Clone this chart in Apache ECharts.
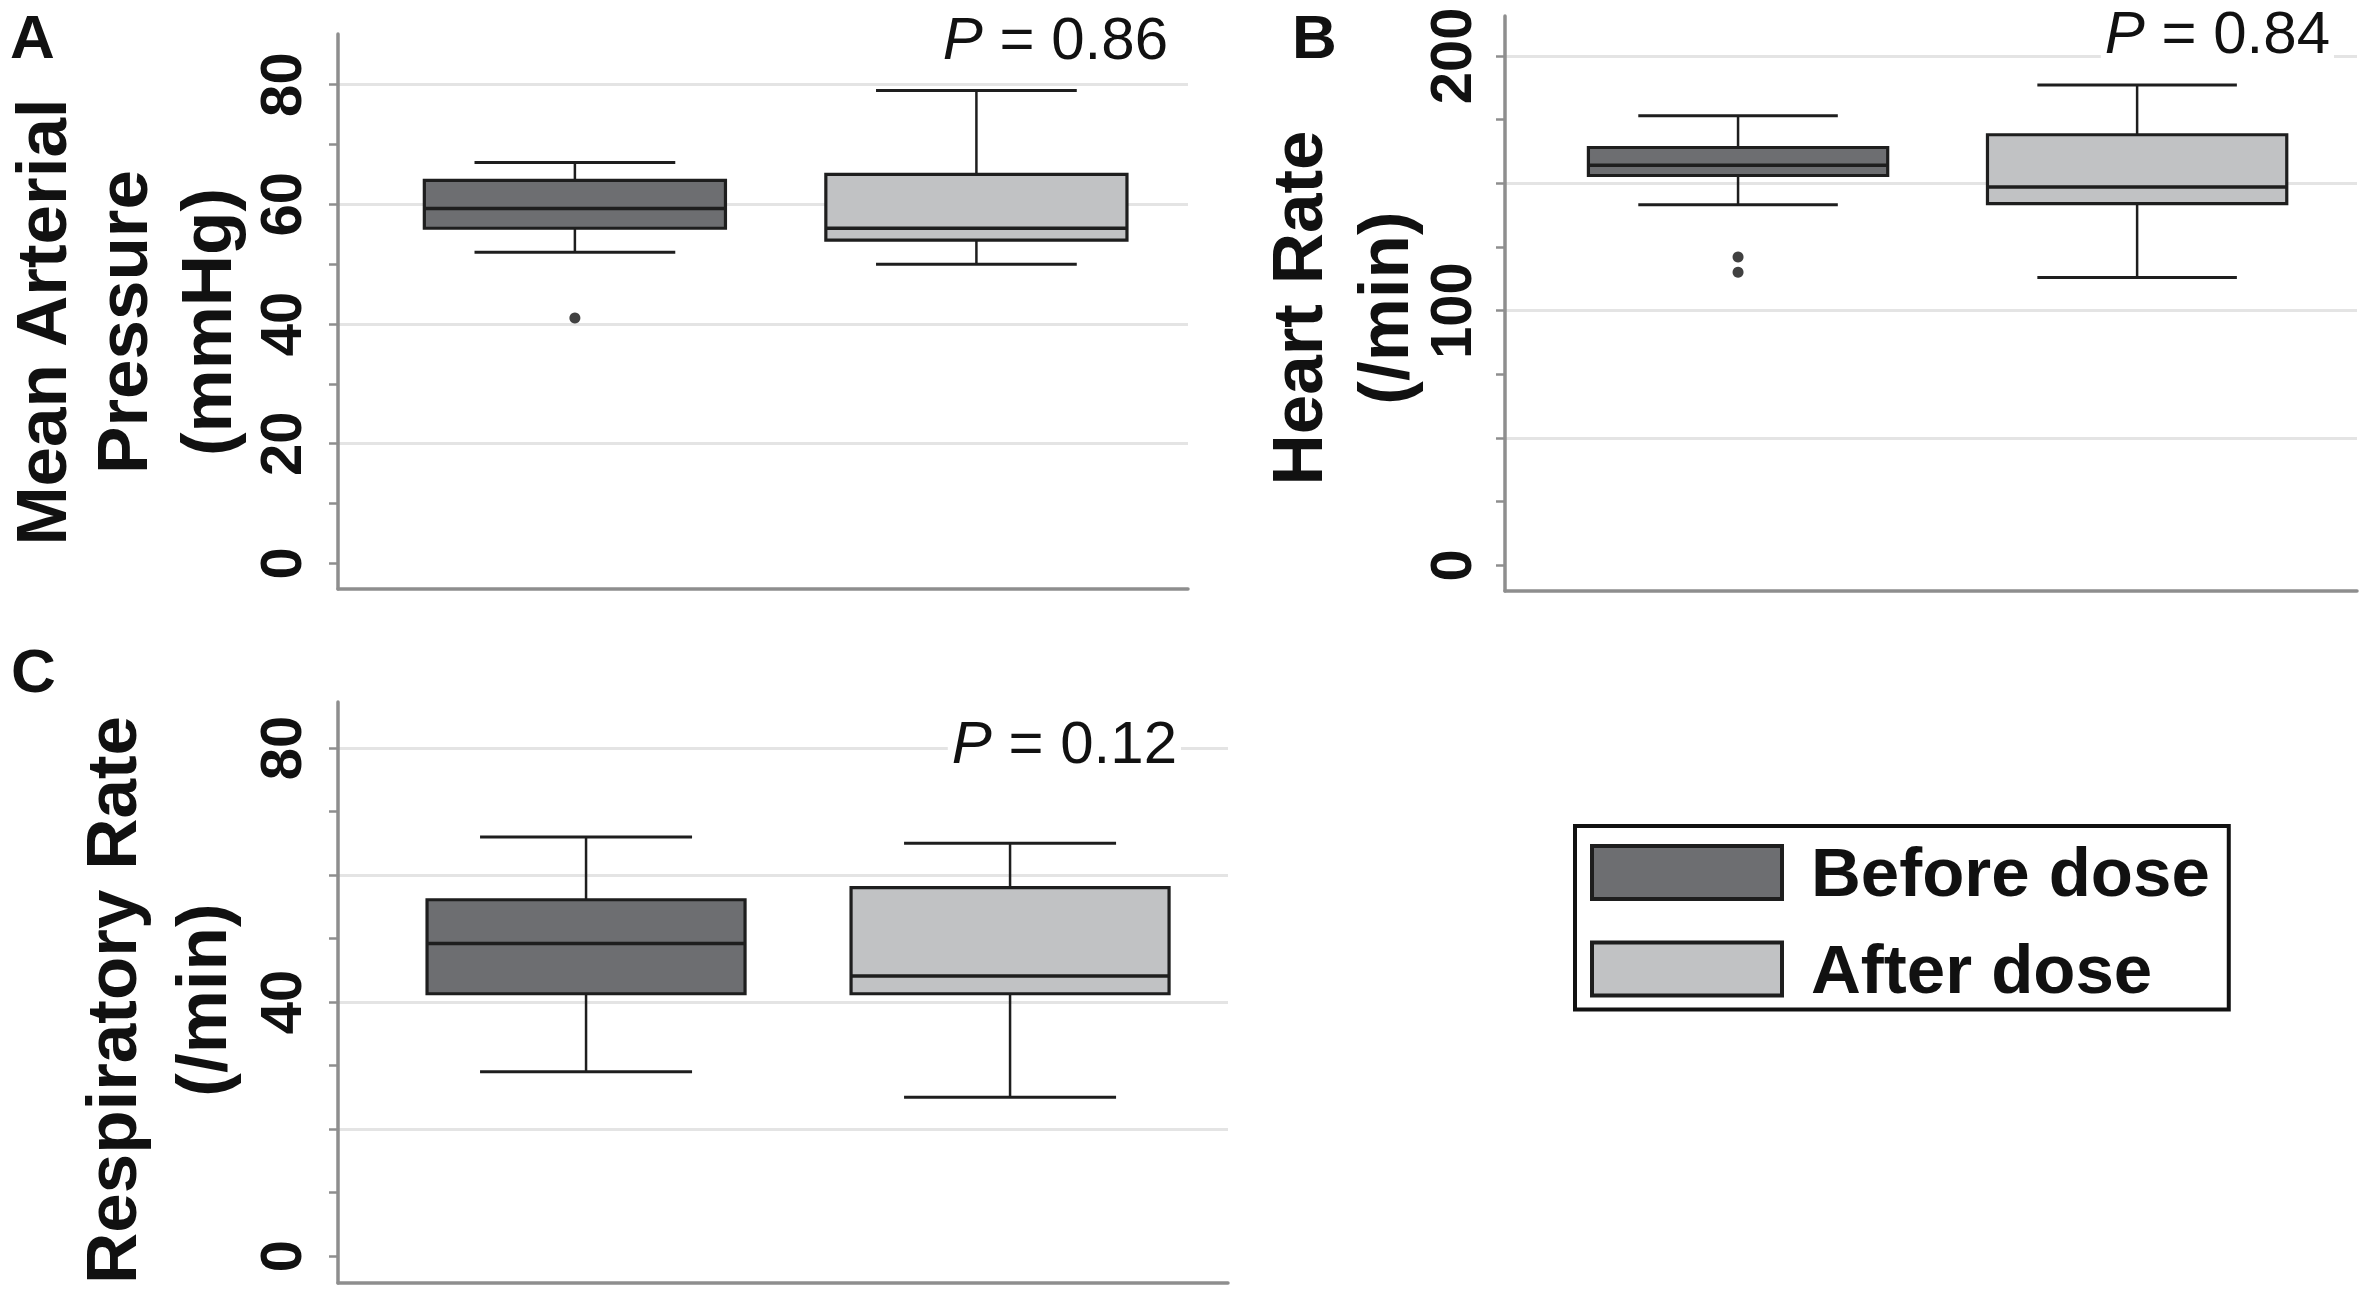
<!DOCTYPE html>
<html>
<head>
<meta charset="utf-8">
<script src="https://cdn.jsdelivr.net/npm/echarts@6/dist/echarts.min.js"></script>
<style>
html,body{margin:0;padding:0;background:#fff;}
#chart{width:2362px;height:1289px;}
</style>
</head>
<body>
<div id="chart"></div>
<script>
// ---------- data ----------
const groups = ['Before dose', 'After dose'];
// [min, Q1, median, Q3, max]
const mapBefore = [52, 56, 59.3, 64, 67];
const mapAfter = [50, 54, 56, 65, 79];
const mapOutliersBefore = [41];
const hrBefore = [141.5, 153, 157, 164, 176.5];
const hrAfter = [113, 142, 148.5, 169, 188.5];
const hrOutliersBefore = [121, 115];
const rrBefore = [29, 41.3, 49.2, 56.1, 66];
const rrAfter = [25, 41.3, 44.1, 58, 65];
const pValues = ['0.86', '0.84', '0.12'];
// axis ticks / labels / gridlines
const ticksA = [0, 10, 20, 30, 40, 50, 60, 70, 80];
const labelsA = [0, 20, 40, 60, 80];
const gridValsA = [20, 40, 60, 80];
const ticksB = [0, 25, 50, 75, 100, 125, 150, 175, 200];
const labelsB = [0, 100, 200];
const gridValsB = [50, 100, 150, 200];
const ticksC = [0, 10, 20, 30, 40, 50, 60, 70, 80];
const labelsC = [0, 40, 80];
const gridValsC = [20, 40, 60, 80];
const titles = ['Mean Arterial\nPressure\n(mmHg)', 'Heart Rate\n(/min)', 'Respiratory Rate\n(/min)'];
const panelLetters = ['A', 'B', 'C'];

// ---------- style ----------
const FF = '"Liberation Sans", Arial, Helvetica, sans-serif';
const colBefore = '#6d6e71';
const colAfter = '#c1c2c4';
const stroke = '#1e1e1e';
const axisCol = '#8e8e8e';
const gridCol = '#e4e4e4';

function renderBox(params, api) {
  const x = api.value(0);
  const lo = api.coord([x, api.value(1)]);
  const q1 = api.coord([x, api.value(2)]);
  const med = api.coord([x, api.value(3)]);
  const q3 = api.coord([x, api.value(4)]);
  const hi = api.coord([x, api.value(5)]);
  const unit = api.size([1, 0])[0];
  const bw = unit * 0.75, cw = unit * 0.5;
  const cx = lo[0];
  const fill = api.visual('color');
  const ls = {stroke: stroke, lineWidth: 3};
  return {
    type: 'group',
    children: [
      {type: 'line', shape: {x1: cx, y1: hi[1], x2: cx, y2: q3[1]}, style: {stroke: stroke, lineWidth: 2.5}},
      {type: 'line', shape: {x1: cx, y1: q1[1], x2: cx, y2: lo[1]}, style: {stroke: stroke, lineWidth: 2.5}},
      {type: 'line', shape: {x1: cx - cw / 2, y1: hi[1], x2: cx + cw / 2, y2: hi[1]}, style: ls},
      {type: 'line', shape: {x1: cx - cw / 2, y1: lo[1], x2: cx + cw / 2, y2: lo[1]}, style: ls},
      {type: 'rect', shape: {x: cx - bw / 2, y: q3[1], width: bw, height: q1[1] - q3[1]}, style: {fill: fill, stroke: stroke, lineWidth: 3.2}},
      {type: 'line', shape: {x1: cx - bw / 2, y1: med[1], x2: cx + bw / 2, y2: med[1]}, style: {stroke: stroke, lineWidth: 3.4}}
    ]
  };
}

const panels = [
  {grid: {left: 338, top: 34, width: 850, height: 555}, xmin: -0.59, xmax: 1.527, ymin: -4.28, ymax: 88.46,
   ticks: ticksA, labels: labelsA, gridVals: gridValsA, margin: 29,
   before: mapBefore, after: mapAfter, outliers: mapOutliersBefore},
  {grid: {left: 1505, top: 16, width: 852, height: 575}, xmin: -0.584, xmax: 1.551, ymin: -10.05, ymax: 215.6,
   ticks: ticksB, labels: labelsB, gridVals: gridValsB, margin: 26,
   before: hrBefore, after: hrAfter, outliers: hrOutliersBefore},
  {grid: {left: 338, top: 702, width: 890, height: 581}, xmin: -0.585, xmax: 1.514, ymin: -4.25, ymax: 87.24,
   ticks: ticksC, labels: labelsC, gridVals: gridValsC, margin: 29,
   before: rrBefore, after: rrAfter, outliers: []}
];

const grid = [], xAxis = [], yAxis = [], series = [];
panels.forEach((p, i) => {
  grid.push(Object.assign({containLabel: false}, p.grid));
  xAxis.push({
    type: 'value', gridIndex: i, min: p.xmin, max: p.xmax,
    axisLine: {show: true, onZero: false, lineStyle: {color: axisCol, width: 3.5}},
    axisTick: {show: false}, axisLabel: {show: false}, splitLine: {show: false}
  });
  yAxis.push({
    type: 'value', gridIndex: i, min: p.ymin, max: p.ymax, position: 'left',
    axisLine: {show: true, onZero: false, lineStyle: {color: axisCol, width: 3.5}},
    axisTick: {show: true, customValues: p.ticks, length: 9, lineStyle: {color: axisCol, width: 2.5}},
    axisLabel: {show: true, customValues: p.labels, rotate: 90, margin: p.margin,
      fontFamily: FF, fontWeight: 'bold', fontSize: 58, color: '#111'},
    splitLine: {show: false}
  });
});
panels.forEach((p, i) => {
  yAxis.push({
    type: 'value', gridIndex: i, min: p.ymin, max: p.ymax, position: 'left',
    axisLine: {show: false}, axisLabel: {show: false},
    axisTick: {show: false, customValues: p.gridVals},
    splitLine: {show: true, lineStyle: {color: gridCol, width: 3}}
  });
});
panels.forEach((p, i) => {
  series.push({
    type: 'custom', name: groups[0], xAxisIndex: i, yAxisIndex: i, z: 3,
    itemStyle: {color: colBefore, borderColor: stroke, borderWidth: 3},
    renderItem: renderBox, data: [[0].concat(p.before)]
  });
  series.push({
    type: 'custom', name: groups[1], xAxisIndex: i, yAxisIndex: i, z: 3,
    itemStyle: {color: colAfter, borderColor: stroke, borderWidth: 3},
    renderItem: renderBox, data: [[1].concat(p.after)]
  });
  if (p.outliers.length) {
    series.push({
      type: 'scatter', name: 'outliers', xAxisIndex: i, yAxisIndex: i, z: 4,
      symbol: 'circle', symbolSize: 11, itemStyle: {color: '#111'},
      data: p.outliers.map(v => [0, v])
    });
  }
});

const graphic = [];
const letterPos = [[10, 36], [1292, 36], [11, 670]];
panelLetters.forEach((t, i) => {
  graphic.push({type: 'text', x: letterPos[i][0], y: letterPos[i][1], z: 10, style: {
    text: t, fontFamily: FF, fontWeight: 'bold', fontSize: 62, lineHeight: 62, fill: '#111', align: 'left', verticalAlign: 'middle'}});
});
// axis titles: one rotated text per line (x = line centre, y = vertical centre)
const titleLineX = [[41, 122, 206], [1297, 1383], [111, 201]];
const titleY = [322, 308, 1000];
titles.forEach((t, i) => {
  t.split('\n').forEach((line, j) => {
    graphic.push({type: 'text', x: titleLineX[i][j], y: titleY[i], rotation: Math.PI / 2, z: 10, style: {
      text: line, fontFamily: FF, fontWeight: 'bold', fontSize: 71, lineHeight: 56, fill: '#111', align: 'center', verticalAlign: 'middle'}});
  });
});
const pPos = [[1172, 38], [2334, 32], [1181, 742]];
pValues.forEach((v, i) => {
  graphic.push({type: 'text', x: pPos[i][0], y: pPos[i][1], z: 10, style: {
    text: '{i|P} = ' + v, fontFamily: FF, fontSize: 60, lineHeight: 52, fill: '#111', align: 'right', verticalAlign: 'middle',
    backgroundColor: '#fff', padding: [0, 4],
    rich: {i: {fontStyle: 'italic', fontFamily: FF, fontSize: 60, lineHeight: 52, fill: '#111'}}
  }});
});

const chart = echarts.init(document.getElementById('chart'), null, {renderer: 'svg', width: 2362, height: 1289});
chart.setOption({
  backgroundColor: '#fff',
  animation: false,
  grid: grid, xAxis: xAxis, yAxis: yAxis, series: series, graphic: graphic,
  legend: {
    orient: 'vertical', left: 1575, top: 826, selectedMode: false,
    padding: [12, 19, 6, 15], itemGap: 27.5, itemWidth: 190, itemHeight: 53,
    borderColor: '#111', borderWidth: 4, backgroundColor: '#fff',
    textStyle: {fontFamily: FF, fontWeight: 'bold', fontSize: 69, color: '#111', lineHeight: 68, padding: [0, 0, 0, 24]},
    data: [
      {name: groups[0], icon: 'rect', itemStyle: {color: colBefore, borderColor: stroke, borderWidth: 4}},
      {name: groups[1], icon: 'rect', itemStyle: {color: colAfter, borderColor: stroke, borderWidth: 4}}
    ]
  }
});
</script>
</body>
</html>
